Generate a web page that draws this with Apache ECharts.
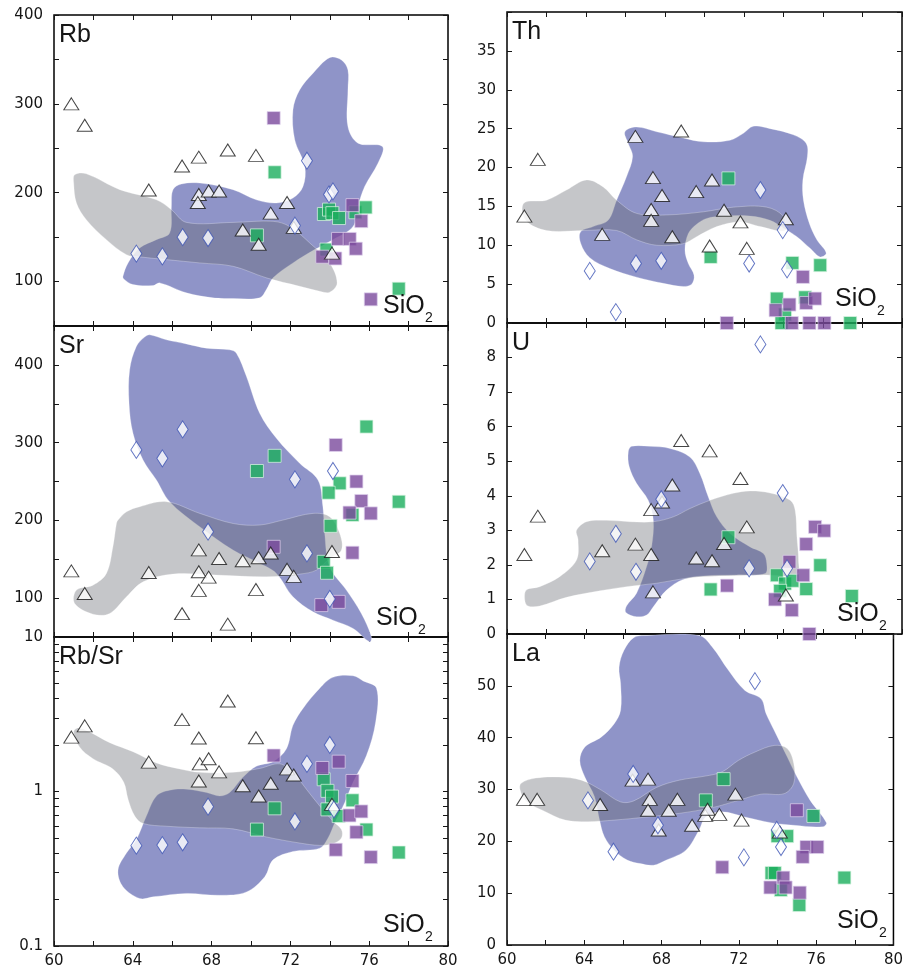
<!DOCTYPE html>
<html>
<head>
<meta charset="utf-8">
<script src="https://cdn.jsdelivr.net/npm/echarts@6/dist/echarts.min.js"></script>
<style>
  html, body { margin: 0; padding: 0; background: #fff; }
  #chart { width: 906px; height: 973px; }
</style>
</head>
<body>
<div id="chart"></div>
<script>
// ---------- Rb (ppm) vs SiO2 ----------
const rbTri = [[60.88,300],[61.56,276],[64.81,203],[66.5,230],[67.35,240],[67.35,198],[67.3,189],[67.85,202],[68.38,202],[68.82,248],[69.58,158],[70.25,242],[70.39,142],[71.0,177],[71.83,189],[72.17,161],[74.11,132]];
const rbDia = [[64.18,131.5],[65.5,128.4],[66.53,150],[67.82,149],[72.23,163],[72.84,236],[73.96,198],[74.16,201.5]];
const rbGreen = [[71.2,223],[70.3,152],[73.7,176],[73.96,181],[74.13,177],[74.47,171.5],[75.3,178],[75.82,183.5],[73.83,136],[77.5,92]];
const rbPurple = [[71.15,284],[75.15,186],[75.6,168],[74.42,148],[75.01,148],[75.32,137],[73.62,128],[74.28,126],[76.08,80]];
const rbBlueField = [[63.5,105.9],[63.76,121],[64.35,137.9],[65.2,147.2],[65.87,154.7],[65.96,184.6],[66.04,203.4],[66.47,209.8],[67.4,210.9],[69.09,203.4],[70.27,192],[71.29,188.4],[72.13,194],[72.64,207],[72.73,229.6],[72.22,259.6],[72.13,293.3],[72.47,315.7],[73.15,334.5],[73.99,352],[74.59,349.4],[74.92,338.2],[74.92,315.7],[74.92,274.5],[75.43,255.8],[76.67,252],[76.45,233.4],[75.77,207],[75.43,184.6],[75.18,162],[74.16,147.2],[73.23,136],[72.13,121],[71.12,104.2],[70.78,91],[70.44,81.7],[69.09,80.9],[68.07,81.7],[66.72,87.3],[65.37,98.5],[65.03,95.5],[64.01,96.6],[63.54,103]];
const rbGrayField = [[61.05,220.2],[61.64,221.3],[63.34,203.4],[65.2,192],[65.96,180.9],[66.72,166.6],[69.09,166.6],[71.12,167.8],[71.96,162],[72.98,143.5],[73.99,121],[74.37,98.5],[73.99,88],[73.49,89.1],[72.47,94.7],[70.78,104.2],[69.09,117.2],[67.4,121],[65.71,124.7],[64.35,127.8],[63.68,130.3],[62.66,147.2],[61.64,169.7],[61.14,188.4],[61.0,210.9]];

// ---------- Th (ppm) vs SiO2 ----------
const thTri = [[60.88,13.75],[61.56,21.05],[64.82,11.4],[66.5,24.0],[67.39,18.7],[67.3,14.6],[67.3,13.2],[67.85,16.4],[68.37,11.1],[68.82,24.7],[69.58,16.9],[70.26,9.9],[70.38,18.4],[70.99,14.5],[71.82,13.0],[72.14,9.6],[74.12,13.4]];
const thDia = [[64.19,6.7],[65.51,1.4],[66.53,7.65],[67.81,8.0],[72.26,7.65],[72.83,17.1],[73.96,11.95],[74.18,6.9]];
const thGreen = [[71.21,18.6],[70.31,8.5],[74.45,7.73],[75.86,7.43],[73.66,3.14],[75.1,3.3],[74.08,1.1],[73.9,0],[77.38,0]];
const thPurple = [[71.13,0],[74.98,5.93],[74.3,2.37],[73.6,1.64],[75.15,2.58],[75.6,3.14],[74.42,0],[75.31,0],[76.07,0]];
const thBlueField = [[65.97,24.6],[66.56,25.2],[67.58,24.6],[68.92,23.8],[69.94,23.3],[71.29,23.5],[71.97,24.4],[72.47,25.3],[73.32,25.0],[74.5,24.2],[75.15,23.1],[75.21,21.4],[74.98,18.4],[75.01,15.8],[75.31,12.8],[75.69,10.7],[76.16,9.0],[75.85,8.5],[75.35,9.6],[74.68,11.1],[74.0,12.2],[73.32,13.2],[72.31,13.75],[70.95,13.75],[70.11,13.45],[69.6,12.7],[69.18,11.5],[69.01,9.4],[69.18,7.65],[69.47,6.15],[69.35,5.0],[68.92,4.7],[67.91,5.1],[66.56,5.9],[65.21,7.0],[64.19,8.4],[63.74,10.2],[63.72,11.7],[64.36,12.4],[65.12,13.2],[65.55,15.8],[66.05,18.8],[66.36,21.4],[66.14,23.1]];
const thGrayField = [[60.85,15.4],[62.0,15.8],[63.01,17.1],[64.03,18.4],[64.87,17.5],[65.55,15.8],[66.56,14.1],[68.08,13.9],[69.94,14.3],[71.46,14.9],[73.15,14.9],[74.0,13.7],[74.08,11.9],[72.82,12.4],[71.8,13.0],[70.62,12.4],[69.6,11.1],[68.92,10.2],[67.58,10.0],[66.56,10.7],[65.55,11.9],[63.86,11.9],[62.0,11.9],[60.95,13.2]];

// ---------- Sr (ppm) vs SiO2 ----------
const srTri = [[60.88,135],[61.56,106],[64.81,133],[66.5,80],[67.35,162],[67.35,134],[67.35,110],[67.85,127],[68.38,151],[68.82,66.5],[69.58,148],[70.25,111],[70.39,152],[71.0,158],[71.83,137],[72.17,128],[74.11,160]];
const srDia = [[64.18,290.6],[65.5,279.8],[66.53,317],[67.82,185.4],[72.23,252.8],[72.84,157.5],[74.16,263.5],[74.0,99]];
const srGreen = [[70.3,263.5],[71.2,283],[75.86,320.6],[74.5,247.7],[73.94,235.6],[75.15,207],[77.5,224],[74.04,193],[73.69,146.7],[73.86,132.6]];
const srPurple = [[74.3,297],[75.35,250],[75.6,225],[75.0,210],[76.08,209],[75.15,158.4],[71.15,166],[73.57,91],[74.45,95.2]];
const srBlueField = [[64.86,438.6],[65.71,432.2],[66.72,427],[67.74,421.5],[68.92,419.3],[69.26,415],[69.77,385],[70.44,337.8],[71.29,305.6],[72.47,273.4],[73.4,251.9],[73.65,217.6],[73.74,183.3],[73.99,140.3],[74.84,110.3],[75.6,80.3],[76.11,50.2],[76.03,43.7],[75.18,61],[74.16,71.7],[73.15,82.4],[72.13,101.7],[71.29,131.8],[70.44,144.7],[69.09,161.8],[67.4,191.8],[65.87,224],[65.2,251.9],[64.52,277.7],[64.01,312],[63.81,350.7],[63.84,393.6],[64.18,423.6],[64.6,435.7]];
const srGrayField = [[63.25,200.4],[63.68,211],[64.35,217.6],[65.71,224],[67.4,209],[69.09,196],[70.44,194],[71.62,200.4],[73.15,209],[73.99,204.7],[74.5,183.3],[74.59,161.8],[73.99,151],[73.32,136],[72.47,130.9],[70.78,127.4],[68.24,129.6],[66.04,130.9],[64.52,121],[63.68,101.7],[62.83,80.3],[61.98,79.4],[61.05,93],[61.14,110.3],[61.98,116.7],[62.66,131.8],[62.99,166],[63.17,196]];

// ---------- U (ppm) vs SiO2 ----------
const uTri = [[60.88,2.3],[61.56,3.41],[64.82,2.41],[66.5,2.6],[67.3,3.6],[67.3,2.3],[67.39,1.22],[67.85,3.82],[68.37,4.31],[68.82,5.6],[69.58,2.2],[70.26,5.3],[70.38,2.12],[70.99,2.62],[71.82,4.5],[72.14,3.1],[74.12,1.13]];
const uDia = [[64.19,2.1],[65.51,2.9],[66.53,1.8],[67.81,3.9],[72.26,1.9],[72.83,8.38],[73.96,4.08],[74.18,1.9]];
const uGreen = [[73.66,1.7],[74.08,1.46],[74.45,1.54],[73.83,1.25],[75.15,1.3],[75.86,1.99],[77.46,1.1],[71.21,2.8],[70.31,1.29]];
const uPurple = [[75.6,3.1],[76.06,2.99],[75.15,2.6],[74.3,2.09],[75.0,1.7],[73.57,1.0],[74.42,0.69],[75.31,0],[71.14,1.4]];
const uBlueField = [[66.31,5.43],[67.24,5.43],[68.25,5.37],[69.26,5.12],[69.77,4.64],[70.19,3.97],[70.62,3.39],[71.29,2.91],[72.31,2.52],[72.98,2.33],[73.15,2.04],[73.07,1.75],[71.63,1.71],[69.94,1.68],[68.92,1.58],[68.08,1.27],[67.41,0.79],[67.07,0.55],[66.56,0.5],[66.02,0.62],[66.05,0.81],[66.56,1.18],[67.07,1.95],[67.32,2.52],[67.41,3.29],[67.15,3.87],[66.56,4.36],[66.19,4.84],[66.14,5.27]];
const uGrayField = [[60.9,0.98],[60.98,1.27],[61.66,1.37],[62.67,1.66],[63.52,2.14],[63.6,2.72],[63.52,3.0],[64.03,3.25],[65.04,3.29],[66.22,3.25],[67.41,3.25],[68.42,3.39],[69.26,3.63],[70.28,3.87],[71.46,4.07],[72.31,4.14],[73.32,4.08],[74.34,3.87],[74.59,3.58],[74.68,2.81],[74.76,2.14],[74.68,1.73],[73.07,1.71],[69.94,1.66],[68.92,1.6],[67.58,1.47],[66.05,1.37],[64.7,1.25],[63.01,1.06],[61.66,0.81],[61.06,0.81]];

// ---------- Rb/Sr vs SiO2 ----------
const rbsrTri = [[60.88,2.25],[61.56,2.66],[64.81,1.55],[66.5,2.92],[67.35,2.22],[67.4,1.51],[67.35,1.17],[67.85,1.63],[68.38,1.34],[68.82,3.85],[69.58,1.09],[70.25,2.23],[70.39,0.936],[71.0,1.13],[71.83,1.4],[72.17,1.28],[74.11,0.826]];
const rbsrDia = [[64.18,0.446],[65.5,0.45],[66.53,0.469],[67.82,0.798],[72.23,0.64],[72.84,1.51],[74.0,2.0],[74.21,0.766]];
const rbsrGreen = [[73.69,1.2],[73.88,1.01],[74.11,0.927],[73.88,0.766],[74.45,0.693],[75.15,0.877],[75.86,0.567],[77.5,0.403],[71.2,0.778],[70.3,0.567]];
const rbsrPurple = [[71.15,1.71],[73.62,1.42],[74.45,1.56],[75.15,1.17],[75.0,0.7],[75.6,0.743],[75.35,0.545],[74.3,0.42],[76.08,0.376]];
const rbsrBlueField = [[73.49,4.66],[74.16,5.48],[75.18,5.61],[75.69,5.2],[76.37,4.66],[76.33,2.83],[75.86,1.71],[75.18,1.146],[74.76,0.848],[74.25,0.627],[73.91,0.5],[73.49,0.43],[72.13,0.409],[71.12,0.361],[70.7,0.281],[69.77,0.224],[68.41,0.213],[66.72,0.219],[65.03,0.208],[64.35,0.203],[63.5,0.242],[63.25,0.31],[63.68,0.4],[64.18,0.488],[64.69,0.693],[65.2,0.936],[65.87,1.02],[66.72,1.035],[67.74,0.985],[68.41,0.936],[68.92,0.985],[69.59,1.235],[70.27,1.457],[71.12,1.56],[71.8,1.89],[72.13,2.68],[72.64,3.45]];
const rbsrGrayField = [[61.0,2.43],[61.22,2.58],[61.81,2.43],[62.83,2.07],[64.01,1.81],[65.2,1.53],[66.38,1.4],[67.4,1.33],[69.09,1.33],[70.44,1.41],[71.46,1.51],[72.13,1.33],[72.81,1.035],[73.49,0.805],[74.16,0.643],[74.59,0.567],[74.59,0.5],[74.16,0.459],[73.49,0.448],[72.47,0.464],[70.78,0.508],[69.09,0.573],[67.4,0.582],[65.71,0.596],[64.52,0.621],[64.1,0.693],[63.76,0.891],[63.54,1.146],[62.99,1.4],[61.98,1.63],[61.3,1.94]];

// ---------- La (ppm) vs SiO2 ----------
const laTri = [[60.88,28.1],[61.56,28.1],[64.82,27.1],[66.5,31.8],[67.3,32],[67.39,28.1],[67.3,26.0],[67.85,22.2],[68.37,26.0],[68.82,28.1],[69.58,23.1],[70.26,25],[70.38,26.2],[70.99,25.2],[71.82,29.1],[72.14,24.1],[74.12,21.8]];
const laDia = [[64.19,27.9],[65.51,18.0],[66.53,33.0],[67.81,23.1],[72.26,16.9],[72.83,50.9],[73.96,22.2],[74.18,18.9]];
const laGreen = [[71.21,32],[70.29,27.9],[75.86,24.9],[74.5,21],[74.0,21],[73.69,13.9],[73.86,13.9],[74.17,10.6],[75.13,7.7],[77.46,13]];
const laPurple = [[75.0,26],[75.5,18.9],[76.06,18.9],[75.3,17],[74.3,13],[73.63,11.1],[74.42,11.1],[75.15,10.1],[71.14,15]];
const laBlueField = [[66.56,59.3],[67.24,59.7],[69.94,59.7],[70.62,57.5],[71.46,53.0],[72.31,49.1],[73.15,47.5],[73.41,44.6],[73.83,41.4],[74.5,36.3],[75.01,32.4],[75.69,27.9],[76.53,23.6],[76.33,22.8],[74.84,23.1],[73.66,23.6],[72.31,24.7],[71.13,25.7],[70.28,24.7],[69.94,22.2],[69.26,18.3],[68.25,16.4],[67.58,15.4],[66.9,15.7],[66.22,16.4],[65.55,18.3],[65.04,20.9],[64.79,24.1],[64.53,28.6],[64.03,32.4],[63.77,35.6],[64.03,38.2],[64.87,40.1],[65.55,42.7],[65.88,45.3],[65.88,50.4],[65.8,53.6],[66.05,56.8]];
const laGrayField = [[60.68,29.9],[60.73,31.2],[61.49,32.2],[62.67,32.4],[63.85,31.8],[64.87,29.9],[65.88,27.6],[66.56,27.8],[67.74,30.4],[68.92,31.8],[70.28,32.6],[71.13,33.4],[71.97,35.6],[72.82,37.2],[73.83,38.5],[74.5,37.9],[74.84,35.0],[74.84,31.2],[74.34,29.2],[73.15,29.1],[71.97,27.9],[70.62,26.5],[68.92,25.4],[67.24,24.7],[65.55,24.1],[64.19,23.8],[63.01,24.1],[61.83,26.0],[60.98,27.8]];

// ---------- styling ----------
const INK = '#161616';
const BLUE_FIELD = '#8f94c8';
const GRAY_FIELD = 'rgba(98,100,108,0.37)';
const GREEN = '#1aae5c';
const PURPLE = '#7a4a9c';
const DIAMOND_EDGE = '#3b52b4';
const TICK_FONT = 'DejaVu Sans';
const TEXT_FONT = 'Liberation Sans';

const LEFT_COL = { left: 54, width: 394 };
const RIGHT_COL = { left: 507, width: 395 };

// layout of the six panels; y settings are the axis ranges used on each
const panels = [
  { name: 'Rb', col: LEFT_COL, top: 15, height: 311, y: { min: 50, max: 400, interval: 50, labelEvery: 100, showMax: true },
    blue: rbBlueField, gray: rbGrayField, tri: rbTri, dia: rbDia, green: rbGreen, purple: rbPurple, xLabels: false, sio: [329, 11] },
  { name: 'Sr', col: LEFT_COL, top: 326, height: 311, y: { min: 50, max: 450, interval: 50, labelEvery: 100, showMax: false },
    blue: srBlueField, gray: srGrayField, tri: srTri, dia: srDia, green: srGreen, purple: srPurple, xLabels: false, sio: [322, 10] },
  { name: 'Rb/Sr', col: LEFT_COL, top: 637, height: 309, y: { log: true },
    blue: rbsrBlueField, gray: rbsrGrayField, tri: rbsrTri, dia: rbsrDia, green: rbsrGreen, purple: rbsrPurple, xLabels: true, sio: [329, 12] },
  { name: 'Th', col: RIGHT_COL, top: 12, height: 311, y: { min: 0, max: 40, interval: 5, labelEvery: 5, showMax: false },
    blue: thBlueField, gray: thGrayField, tri: thTri, dia: thDia, green: thGreen, purple: thPurple, xLabels: false, sio: [328, 15] },
  { name: 'U', col: RIGHT_COL, top: 323, height: 311, y: { min: 0, max: 9, interval: 1, labelEvery: 1, showMax: false },
    blue: uBlueField, gray: uGrayField, tri: uTri, dia: uDia, green: uGreen, purple: uPurple, xLabels: false, sio: [330, 11] },
  { name: 'La', col: RIGHT_COL, top: 634, height: 311, y: { min: 0, max: 60, interval: 10, labelEvery: 10, showMax: false },
    blue: laBlueField, gray: laGrayField, tri: laTri, dia: laDia, green: laGreen, purple: laPurple, xLabels: true, sio: [330, 15] }
];

const grids = [], xAxes = [], yAxes = [], series = [], graphics = [];

const tickStyle = (show) => ({ show, inside: true, length: 5, lineStyle: { color: INK, width: 1 } });
const labelStyle = { fontFamily: TICK_FONT, fontSize: 15, color: INK, margin: 11 };
const noLine = { show: false, onZero: false };

// minor tick positions for a 0.1–10 log axis, expressed in decades
const logTickPositions = [];
[-1, 0].forEach(d => { for (let m = 1; m <= 9; m++) logTickPositions.push(d + Math.log10(m)); });
logTickPositions.push(1);
const decadeLabels = { '-1': '0.1', '0': '1', '1': '10' };

function fieldSeries(points, fill, gi, xi, yi) {
  return {
    type: 'custom', coordinateSystem: 'cartesian2d', xAxisIndex: xi, yAxisIndex: yi,
    z: 1, silent: true, clip: false,
    data: points,
    renderItem: (params, api) => {
      if (params.dataIndex !== 0) return null;
      const pts = points.map(p => api.coord(p));
      return { type: 'polygon', shape: { points: pts, smooth: 0.35 }, style: { fill: fill, stroke: 'rgba(255,255,255,0.35)', lineWidth: 0.8 } };
    }
  };
}

function scatterSeries(points, xi, yi, symbol, size, itemStyle, z) {
  return { type: 'scatter', xAxisIndex: xi, yAxisIndex: yi, data: points, symbol, symbolSize: size,
           itemStyle, z, clip: false, silent: true, animation: false };
}

panels.forEach((p, gi) => {
  grids.push({ left: p.col.left, top: p.top, width: p.col.width, height: p.height,
               show: true, borderColor: '#000', borderWidth: 1.5, backgroundColor: 'transparent' });

  const xBottom = xAxes.length;
  const xCommon = { type: 'value', gridIndex: gi, min: 60, max: 80, interval: 2,
                    axisLine: noLine, splitLine: { show: false } };
  xAxes.push(Object.assign({}, xCommon, { position: 'bottom', axisTick: tickStyle(true),
    axisLabel: Object.assign({}, labelStyle, { show: p.xLabels, margin: 8, showMinLabel: true, showMaxLabel: true,
      formatter: v => (v % 4 === 0 ? String(v) : '') }) }));
  xAxes.push(Object.assign({}, xCommon, { position: 'top', axisTick: tickStyle(true), axisLabel: { show: false } }));

  let yData;
  if (p.y.log) {
    yData = yAxes.length;
    yAxes.push({ type: 'log', logBase: 10, min: 0.1, max: 10, gridIndex: gi, position: 'left',
                 axisLine: noLine, axisTick: { show: false }, axisLabel: { show: false }, splitLine: { show: false } });
    [['left', true], ['right', false]].forEach(([pos, lab]) => {
      yAxes.push({ type: 'value', min: -1, max: 1, interval: 1, gridIndex: gi, position: pos,
                   axisLine: noLine, splitLine: { show: false },
                   axisTick: Object.assign(tickStyle(true), { customValues: logTickPositions }),
                   axisLabel: Object.assign({}, labelStyle, { show: lab, formatter: v => decadeLabels[String(Math.round(v))] || '' }) });
    });
  } else {
    const y = p.y;
    const yCommon = { type: 'value', gridIndex: gi, min: y.min, max: y.max, interval: y.interval,
                      axisLine: noLine, splitLine: { show: false }, axisTick: tickStyle(true) };
    yData = yAxes.length;
    yAxes.push(Object.assign({}, yCommon, { position: 'left',
      axisLabel: Object.assign({}, labelStyle, { showMinLabel: true, showMaxLabel: true,
        formatter: v => {
          if (v === y.max && !y.showMax) return '';
          return (Math.round(v * 1000) % Math.round(y.labelEvery * 1000) === 0) ? String(v) : '';
        } }) }));
    yAxes.push(Object.assign({}, yCommon, { position: 'right', axisLabel: { show: false } }));
  }

  series.push(fieldSeries(p.blue, BLUE_FIELD, gi, xBottom, yData));
  series.push(fieldSeries(p.gray, GRAY_FIELD, gi, xBottom, yData));
  series.push(scatterSeries(p.green, xBottom, yData, 'rect', 13,
    { color: GREEN, borderColor: 'rgba(220,245,228,0.9)', borderWidth: 1 }, 3));
  series.push(scatterSeries(p.purple, xBottom, yData, 'rect', 13,
    { color: PURPLE, borderColor: 'rgba(225,210,238,0.9)', borderWidth: 1 }, 4));
  series.push(scatterSeries(p.tri, xBottom, yData, 'triangle', [15, 12],
    { color: '#ffffff', borderColor: INK, borderWidth: 1 }, 5));
  series.push(scatterSeries(p.dia, xBottom, yData, 'diamond', [11, 17],
    { color: '#ffffff', borderColor: DIAMOND_EDGE, borderWidth: 1 }, 6));

  // panel name
  graphics.push({ type: 'text', x: p.col.left + 5, y: p.top + 20.5, z: 10,
    style: { text: p.name, font: '25px "' + TEXT_FONT + '"', fill: INK, verticalAlign: 'middle', align: 'left' } });
  // SiO2 axis caption
  const bottom = p.top + p.height;
  const sx = p.col.left + p.sio[0], base = bottom - p.sio[1];
  graphics.push({ type: 'text', x: sx, y: base - 9, z: 10,
    style: { text: 'SiO', font: '25px "' + TEXT_FONT + '"', fill: INK, verticalAlign: 'middle', align: 'left' } });
  graphics.push({ type: 'text', x: sx + 42, y: base + 3.5, z: 10,
    style: { text: '2', font: '14px "' + TEXT_FONT + '"', fill: INK, verticalAlign: 'middle', align: 'left' } });
});

const chart = echarts.init(document.getElementById('chart'), null, { renderer: 'canvas' });
chart.setOption({
  animation: false,
  backgroundColor: '#ffffff',
  grid: grids,
  xAxis: xAxes,
  yAxis: yAxes,
  series: series,
  graphic: graphics
});
</script>
</body>
</html>
